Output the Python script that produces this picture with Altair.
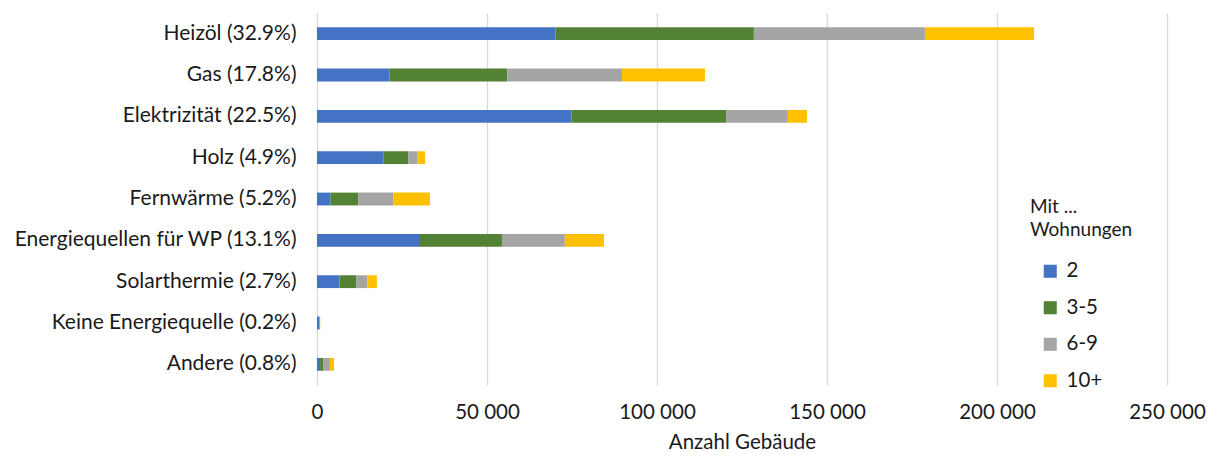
import altair as alt
import pandas as pd

categories = ["Heizöl (32.9%)", "Gas (17.8%)", "Elektrizität (22.5%)", "Holz (4.9%)",
              "Fernwärme (5.2%)", "Energiequellen für WP (13.1%)", "Solarthermie (2.7%)",
              "Keine Energiequelle (0.2%)", "Andere (0.8%)"]
groups = ["2", "3-5", "6-9", "10+"]
colors = ["#4472C4", "#548235", "#A5A5A5", "#FFC000"]

v2   = [70200, 21300, 74900, 19500, 4000, 30000, 6600, 650, 900]
v3_5 = [58300, 34700, 45400, 7400, 8100, 24400, 4900, 150, 1000]
v6_9 = [50300, 33700, 18200, 2700, 10300, 18500, 3300, 100, 1900]
v10  = [32100, 24400, 5600, 2200, 10800, 11500, 2800, 50, 1200]

rows = []
for i, c in enumerate(categories):
    for j, (g, vals) in enumerate(zip(groups, [v2, v3_5, v6_9, v10])):
        rows.append({"Energie": c, "Gruppe": g, "Wert": vals[i], "ord": j})
df = pd.DataFrame(rows)

font = "Lato"
txt = "#1a1a1a"
chart = alt.Chart(df).mark_bar().encode(
    y=alt.Y("Energie:N", sort=categories, title=None,
            scale=alt.Scale(paddingInner=0.69, paddingOuter=0.345),
            axis=alt.Axis(domain=False, ticks=False, labelPadding=21, labelFontSize=21,
                          labelFont=font, labelColor=txt, labelLimit=400)),
    x=alt.X("Wert:Q", stack="zero", title="Anzahl Gebäude",
            scale=alt.Scale(domain=[0, 250000], nice=False),
            axis=alt.Axis(values=[0, 50000, 100000, 150000, 200000, 250000],
                          labelExpr="replace(format(datum.value, ',d'), ',', ' ')",
                          domain=False, ticks=False, labelPadding=17, labelFontSize=20.5,
                          labelFlush=False, labelOverlap=False,
                          labelFont=font, labelColor=txt, titleFont=font,
                          titleFontSize=20.5, titleFontWeight="normal", titleColor=txt,
                          titlePadding=10, gridColor="#D9D9D9", gridWidth=1.3)),
    color=alt.Color("Gruppe:N", sort=groups,
                    scale=alt.Scale(domain=groups, range=colors),
                    legend=alt.Legend(title=["Mit ...", "Wohnungen"], orient="none",
                                      legendX=713, legendY=185, titleFont=font,
                                      titleFontSize=19, titleFontWeight="normal",
                                      titleColor=txt, titlePadding=21, titleLineHeight=23,
                                      labelFont=font, labelFontSize=20.5, labelColor=txt,
                                      symbolType="square", symbolSize=170,
                                      symbolStrokeWidth=0, rowPadding=15.5,
                                      labelOffset=6, symbolOffset=10)),
    order=alt.Order("ord:Q")
).properties(
    width=850, height=372,
    autosize=alt.AutoSizeParams(type="none"),
    padding={"left": 317, "top": 13, "right": 48, "bottom": 72}
).configure_view(stroke=None)

chart.save("out.html", embed_options={"renderer": "svg", "actions": False})
